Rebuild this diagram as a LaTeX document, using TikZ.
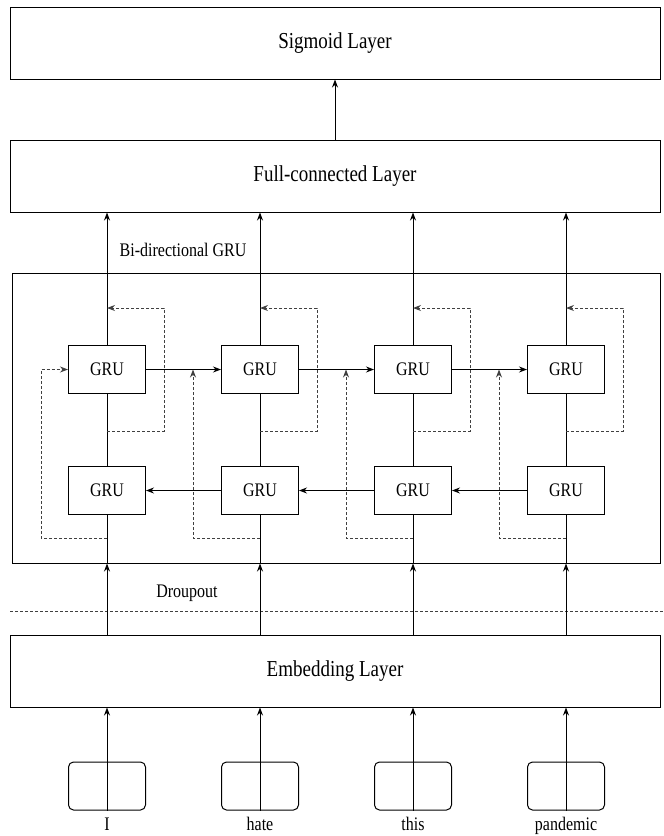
\documentclass[tikz,border=0pt]{standalone}
\usepackage{fontspec}
\setmainfont{Liberation Serif}
\usetikzlibrary{arrows.meta}
\usetikzlibrary{positioning}
\newcommand{\tallt}[1]{\scalebox{1}[1.2]{#1}}

\tikzset{
  layer/.style={draw, line width=1pt, minimum width=650pt, minimum height=72pt, inner sep=0pt, font=\fontsize{19}{22}\selectfont},
  gru/.style={draw, line width=1pt, minimum width=77pt, minimum height=48pt, inner sep=0pt, font=\fontsize{16}{18}\selectfont},
  token/.style={draw, line width=1pt, rounded corners=5pt, minimum width=77pt, minimum height=48pt, inner sep=0pt},
  word/.style={font=\fontsize{16}{18}\selectfont, inner sep=0pt},
  flow/.style={line width=1pt, -{Stealth[length=8pt,width=6pt]}},
  link/.style={line width=1pt},
  feedback/.style={line width=1pt, dash pattern=on 3pt off 2pt, black!75, -{Stealth[length=8pt,width=6pt]}},
}

\begin{document}
\begin{tikzpicture}[x=1pt,y=-1pt]
    \useasboundingbox (0,0) rectangle (664,836);
    % layers
    \node[layer] (sig) at (335,43) {\tallt{Sigmoid Layer}};
    \node[layer] (fc) at (335,176) {\tallt{Full-connected Layer}};
    \node[layer] (emb) at (335,671) {\tallt{Embedding Layer}};
    \node[draw, line width=1pt, minimum width=648pt, minimum height=290pt, inner sep=0pt] (bigru) at (336,418) {};
    \node[word] (bilbl) at (183,250) {\tallt{Bi-directional GRU}};
    \node[word] (droplbl) at (187,593) {\tallt{Droupout}};
    \coordinate (dropl) at (10,611);
    \coordinate (dropr) at (664,611);
    \draw[line width=1pt, dash pattern=on 3pt off 2pt, black!75] (dropl) -- (dropr);
    \draw[flow] (fc) -- (sig);

    % columns
    \foreach \i/\x/\w in {1/107/I, 2/260/hate, 3/413/this, 4/566/pandemic} {
        \node[gru] (t\i) at (\x,369.5) {\tallt{GRU}};
        \node[gru] (b\i) at (\x,490.5) {\tallt{GRU}};
        \node[token] (k\i) at (\x,786) {};
        \node[word, anchor=base] (w\i) at (\x,830) {\tallt{\w}};
    }
    \foreach \i in {1,...,4} {
        \draw[flow] (k\i.south) -- (k\i.south |- emb.south);
        \draw[flow] (emb.north -| k\i) -- (bigru.south -| k\i);
        \draw[link] (bigru.south -| k\i) -- (b\i.south);
        \draw[link] (b\i) -- (t\i);
        \draw[flow] (t\i.north) -- (fc.south -| t\i);
        \draw[feedback] ([yshift=-37pt]t\i.south) -- ++(57,0) |- ([yshift=37pt]t\i.north);
    }
    \foreach \i/\j in {1/2,2/3,3/4} {
        \draw[flow] (t\i) -- (t\j);
        \draw[flow] (b\j) -- (b\i);
        \draw[feedback] ([yshift=-23pt]b\j.south) -- ++(-67,0) coordinate (m\j) -- (m\j |- t\j.west);
    }
    \draw[feedback] ([yshift=-23pt]b1.south) -- ++(-66,0) |- (t1.west);
\end{tikzpicture}
\end{document}
